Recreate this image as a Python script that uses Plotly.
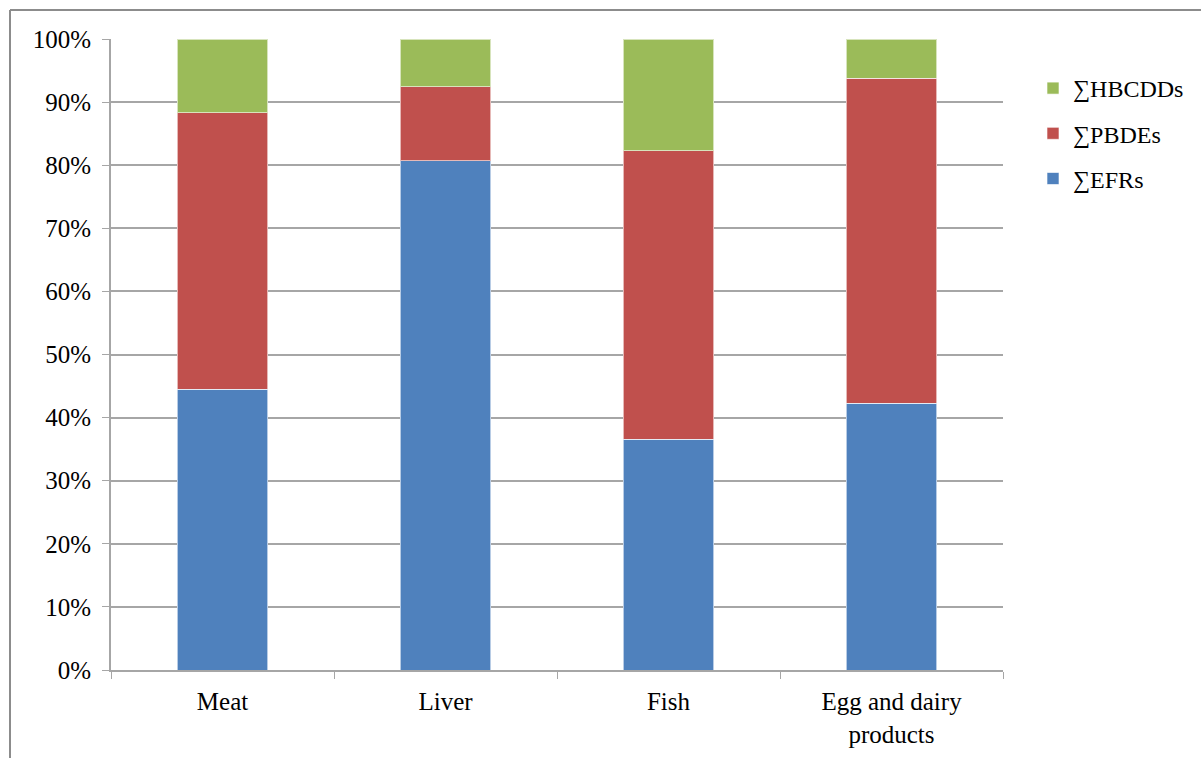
import plotly.graph_objects as go

categories = ["Meat", "Liver", "Fish", "Egg and dairy<br>products"]
efrs = [44.5, 80.7, 36.6, 42.3]
pbdes = [43.8, 11.7, 45.7, 51.5]
hbcdds = [11.7, 7.6, 17.7, 6.2]
y_ticks = [0, 10, 20, 30, 40, 50, 60, 70, 80, 90, 100]
y_tick_labels = [f"{v}%" for v in y_ticks]

FONT = "Liberation Serif"
FS = 25
W, H = 1201, 758
L, R, T, B = 111, 198, 39, 88

fig = go.Figure()
series = [
    ("∑EFRs", efrs, "#4F81BD", 3),
    ("∑PBDEs", pbdes, "#C0504D", 2),
    ("∑HBCDDs", hbcdds, "#9BBB59", 1),
]
for name, vals, color, rank in series:
    fig.add_trace(go.Bar(
        x=categories, y=vals, name=name, legendgroup=name, legendrank=rank,
        marker=dict(color=color, line=dict(color="rgba(255,255,255,0.6)", width=1)),
        width=0.405,
    ))

pw = W - L - R
ph = H - T - B
px_x = lambda p: (p - L) / pw
px_y = lambda p: (H - B - p) / ph

# outer chart frame (top and left edges)
fig.add_shape(type="line", xref="paper", yref="paper",
              x0=px_x(10), x1=px_x(1210), y0=px_y(10), y1=px_y(10),
              line=dict(color="#8C8C8C", width=2))
fig.add_shape(type="line", xref="paper", yref="paper",
              x0=px_x(10), x1=px_x(10), y0=px_y(10), y1=px_y(770),
              line=dict(color="#8C8C8C", width=2))

fig.update_layout(
    width=W, height=H,
    margin=dict(l=L, r=R, t=T, b=B, autoexpand=False),
    barmode="stack",
    paper_bgcolor="white", plot_bgcolor="white",
    font=dict(family=FONT, size=FS, color="black"),
    legend=dict(
        x=px_x(1033), y=px_y(66), xanchor="left", yanchor="top",
        traceorder="grouped", tracegroupgap=11,
        font=dict(family=FONT, size=FS - 1, color="black"),
        itemwidth=30,
    ),
    xaxis=dict(
        range=[-0.5, 3.5], tickson="boundaries", ticks="outside", ticklen=7,
        tickcolor="#A6A6A6", showline=True, linecolor="#A6A6A6", linewidth=2,
        showgrid=False, tickfont=dict(family=FONT, size=FS),
        ticklabelstandoff=8,
    ),
    yaxis=dict(
        range=[0, 100], tickvals=y_ticks, ticktext=y_tick_labels,
        ticks="outside", ticklen=7, tickcolor="#A6A6A6",
        showline=True, linecolor="#A6A6A6", linewidth=2,
        showgrid=True, gridcolor="#A6A6A6", gridwidth=1.5,
        zeroline=False, tickfont=dict(family=FONT, size=FS),
        ticklabelstandoff=6,
    ),
)

fig.write_html("out.html")
